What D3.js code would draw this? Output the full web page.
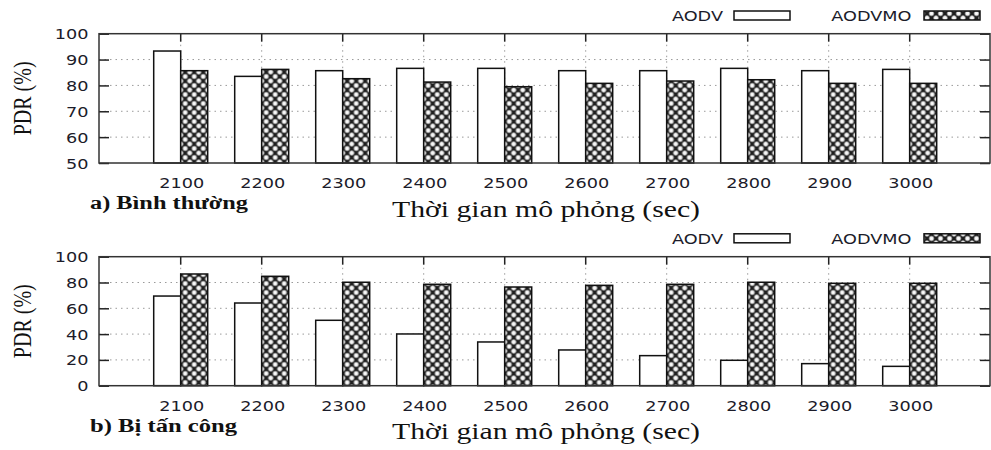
<!DOCTYPE html>
<html>
<head>
<meta charset="utf-8">
<script src="https://cdn.jsdelivr.net/npm/d3@7"></script>
<style>
  html, body { margin: 0; padding: 0; background: #fff; }
  svg { display: block; }
</style>
</head>
<body>
<svg id="chart" width="991" height="450"></svg>
<script>
// Simulation times (sec) on the x axis
const categories = ["2100", "2200", "2300", "2400", "2500", "2600", "2700", "2800", "2900", "3000"];
const seriesNames = ["AODV", "AODVMO"];

// a) normal operation: packet delivery ratio (%)
const normalAODV   = [93.3, 83.5, 85.7, 86.6, 86.6, 85.7, 85.7, 86.6, 85.7, 86.2];
const normalAODVMO = [85.7, 86.2, 82.6, 81.3, 79.5, 80.8, 81.7, 82.2, 80.8, 80.8];

// b) under attack: packet delivery ratio (%)
const attackAODV   = [69.5, 64.1, 50.7, 40.1, 33.9, 27.7, 23.3, 19.7, 17.1, 15.0];
const attackAODVMO = [86.6, 84.8, 80.2, 78.6, 76.5, 77.8, 78.6, 80.2, 79.4, 79.4];

const normalTicks = [50, 60, 70, 80, 90, 100];
const attackTicks = [0, 20, 40, 60, 80, 100];

const yLabel = "PDR (%)";
const xLabel = "Thời gian mô phỏng (sec)";
const panelTitles = ["a) Bình thường", "b) Bị tấn công"];

const svg = d3.select("#chart");
const SX = 1.22;              // horizontal stretch of the glyphs
const SANS = "'DejaVu Sans', Verdana, sans-serif";
const SERIF = "'Liberation Serif', 'Times New Roman', serif";

// fill pattern for the AODVMO bars: dark lattice with light round holes
const defs = svg.append("defs");
const glow = defs.append("radialGradient").attr("id", "hole");
glow.append("stop").attr("offset", "0%").attr("stop-color", "#ffffff");
glow.append("stop").attr("offset", "45%").attr("stop-color", "#eeeeee");
glow.append("stop").attr("offset", "100%").attr("stop-color", "#1e1e1e");
const pat = defs.append("pattern").attr("id", "hatch")
  .attr("patternUnits", "userSpaceOnUse").attr("width", 9).attr("height", 9);
pat.append("rect").attr("width", 9).attr("height", 9).attr("fill", "#1e1e1e");
[[0, 0], [9, 0], [0, 9], [9, 9], [4.5, 4.5]].forEach(([cx, cy]) => {
  pat.append("circle").attr("cx", cx).attr("cy", cy).attr("r", 3.3).attr("fill", "url(#hole)");
});

const fills = { AODV: "#ffffff", AODVMO: "url(#hatch)" };

const frameX0 = 99, frameX1 = 990;
const x = d3.scaleBand().domain(categories).range([140.2, 950.2]).padding(0);
const xs = d3.scaleBand().domain(seriesNames).range([-27, 27]).padding(0);

function sansText(g, px, py, str, anchor) {
  return g.append("text")
    .attr("transform", `translate(${px},${py}) scale(${SX},1)`)
    .attr("text-anchor", anchor || "middle")
    .attr("font-family", SANS).attr("font-size", 14.5)
    .attr("fill", "#1c1c2a")
    .text(str);
}

function drawPanel(opts) {
  const { top, bottom, domain, ticks, aodv, aodvmo, title, titleLen, legendY } = opts;
  const g = svg.append("g");
  const y = d3.scaleLinear().domain(domain).range([bottom, top]);
  const rows = categories.map((c, i) => ({ c, AODV: aodv[i], AODVMO: aodvmo[i] }));
  const center = c => x(c) + x.bandwidth() / 2;

  // dotted grid
  const grid = g.append("g").attr("stroke", "#9a9a9a").attr("stroke-width", 1)
    .attr("stroke-dasharray", "1.5,4");
  grid.selectAll("line.h").data(ticks.filter(t => t !== domain[0] && t !== domain[1]))
    .join("line").attr("class", "h")
    .attr("x1", frameX0).attr("x2", frameX1)
    .attr("y1", d => y(d)).attr("y2", d => y(d));
  grid.selectAll("line.v").data(categories).join("line").attr("class", "v")
    .attr("x1", d => center(d)).attr("x2", d => center(d))
    .attr("y1", top).attr("y2", bottom);

  // bars
  const groups = g.selectAll("g.cat").data(rows).join("g").attr("class", "cat")
    .attr("transform", d => `translate(${center(d.c)},0)`);
  groups.selectAll("rect").data(d => seriesNames.map(s => ({ s, v: d[s] })))
    .join("rect")
    .attr("x", d => xs(d.s)).attr("width", xs.bandwidth())
    .attr("y", d => y(d.v)).attr("height", d => bottom - y(d.v))
    .attr("fill", d => fills[d.s])
    .attr("stroke", "#111").attr("stroke-width", 1.5);

  // axes with inward ticks
  const left = g.append("g").attr("transform", `translate(${frameX0},0)`)
    .call(d3.axisLeft(y).tickValues(ticks).tickSize(-10).tickPadding(0));
  const right = g.append("g").attr("transform", `translate(${frameX1},0)`)
    .call(d3.axisRight(y).tickValues(ticks).tickSize(-10).tickFormat(""));
  const topAx = g.append("g").attr("transform", `translate(0,${top})`)
    .call(d3.axisTop(x).tickSize(-8).tickFormat(""));
  [left, right, topAx].forEach(a => {
    a.select(".domain").remove();
    a.selectAll(".tick line").attr("stroke", "#222").attr("stroke-width", 1.5);
  });
  left.selectAll(".tick text")
    .attr("x", null).attr("dy", null)
    .attr("transform", `translate(-10.5,5) scale(${SX},1)`)
    .attr("text-anchor", "end")
    .attr("font-family", SANS).attr("font-size", 14.5).attr("fill", "#1c1c2a");

  // category labels
  categories.forEach(c => sansText(g, center(c) + 1, bottom + 25, c));

  // frame
  g.append("rect").attr("x", frameX0).attr("y", top)
    .attr("width", frameX1 - frameX0).attr("height", bottom - top)
    .attr("fill", "none").attr("stroke", "#333").attr("stroke-width", 1.5);

  // y label
  g.append("text")
    .attr("transform", `translate(31,${(top + bottom) / 2}) scale(${SX},1) rotate(-90)`)
    .attr("text-anchor", "middle")
    .attr("font-family", SERIF).attr("font-size", 21)
    .attr("textLength", 74).attr("lengthAdjust", "spacingAndGlyphs")
    .attr("fill", "#111").text(yLabel);

  // x label
  g.append("text").attr("x", 546).attr("y", bottom + 53.5)
    .attr("text-anchor", "middle")
    .attr("font-family", SERIF).attr("font-size", 23)
    .attr("textLength", 308).attr("lengthAdjust", "spacingAndGlyphs")
    .attr("fill", "#111").text(xLabel);

  // panel caption
  g.append("text").attr("x", 90).attr("y", bottom + 46)
    .attr("font-family", SERIF).attr("font-size", 18.5).attr("font-weight", "bold")
    .attr("textLength", titleLen).attr("lengthAdjust", "spacingAndGlyphs")
    .attr("fill", "#111").text(title);

  // legend
  const legend = [
    { s: "AODV", textEnd: 723, box: 734 },
    { s: "AODVMO", textEnd: 911.5, box: 924 }
  ];
  legend.forEach(l => {
    sansText(g, l.textEnd, legendY + 5.5, l.s, "end");
    g.append("rect").attr("x", l.box).attr("y", legendY - 4.5)
      .attr("width", 56).attr("height", 9)
      .attr("fill", fills[l.s]).attr("stroke", "#111").attr("stroke-width", 1.5);
  });
}

drawPanel({
  top: 33.7, bottom: 163, domain: [50, 100], ticks: normalTicks,
  aodv: normalAODV, aodvmo: normalAODVMO,
  title: panelTitles[0], titleLen: 158, legendY: 15.5
});
drawPanel({
  top: 256.7, bottom: 385.7, domain: [0, 100], ticks: attackTicks,
  aodv: attackAODV, aodvmo: attackAODVMO,
  title: panelTitles[1], titleLen: 147, legendY: 238.3
});
</script>
</body>
</html>
